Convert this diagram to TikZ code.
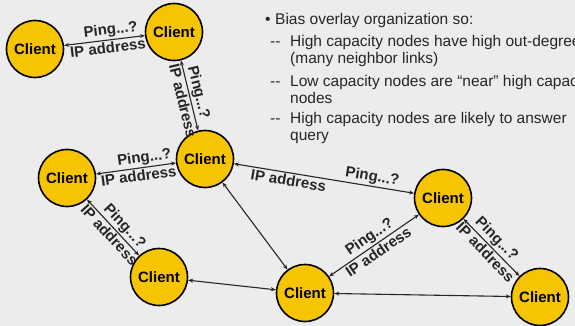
\documentclass[tikz,border=0pt]{standalone}
\usepackage{fontspec}
\setmainfont{Liberation Sans}
\usetikzlibrary{arrows.meta}
\definecolor{bgcol}{RGB}{236,236,236}
\definecolor{nodecol}{RGB}{247,196,0}

\begin{document}
\begin{tikzpicture}[x=1pt,y=-1pt,
  client/.style={circle, draw=black, line width=1.6pt, fill=nodecol,
    minimum size=57pt, inner sep=0pt, font=\fontsize{15}{15}\selectfont\bfseries},
  link/.style={line width=1.1pt, black!85,
    {Stealth[length=5pt,width=4pt]}-{Stealth[length=5pt,width=4pt]}},
  lab/.style={sloped, text=black!85, font=\fontsize{15}{15}\selectfont\bfseries, inner sep=1.5pt},
  txt/.style={anchor=base west, inner sep=0pt, text=black!85,
    font=\fontsize{15.5}{15.5}\selectfont}]
\fill[bgcol] (0,0) rectangle (575,326);
\useasboundingbox (0,0) rectangle (575,326);
\clip (0,0) rectangle (575,326);

% clients
\node[client] (a) at (35,49)   {Client};
\node[client] (b) at (174,32)  {Client};
\node[client] (c) at (205,159) {Client};
\node[client] (d) at (67,178)  {Client};
\node[client] (e) at (159,277) {Client};
\node[client] (f) at (305,293) {Client};
\node[client] (g) at (443,198) {Client};
\node[client] (h) at (540,297) {Client};

% labelled links
\draw[link] (a) -- node[lab,above,pos=0.59] {Ping...?} node[lab,below,pos=0.53] {IP address} (b);
\draw[link] (b) -- node[lab,above,pos=0.49] {Ping...?} node[lab,below,pos=0.55] {IP address} (c);
\draw[link] (d) -- node[lab,above,pos=0.62] {Ping...?} node[lab,below,pos=0.52] {IP address} (c);
\draw[link] (d) -- node[lab,above,pos=0.59] {Ping...?} node[lab,below,pos=0.54] {IP address} (e);
\draw[link] (c) -- node[lab,above,pos=0.76] {Ping...?} node[lab,below,pos=0.31] {IP address} (g);
\draw[link] (f) -- node[lab,above,pos=0.51] {Ping...?} node[lab,below,pos=0.50] {IP address} (g);
\draw[link] (g) -- node[lab,above,pos=0.47] {Ping...?} node[lab,below,pos=0.49] {IP address} (h);

% plain links
\draw[link] (c) -- (f);
\draw[link] (e) -- (f);
\draw[link] (f) -- (h);

% bullet text, hanging indent for the sub-items
\node[txt] (t1) at (265,25)  {\makebox[10pt][l]{\textbullet}Bias overlay organization so:};
\node[txt] (t2) at (270,47)  {\makebox[20pt][l]{-{}-}High capacity nodes have high out-degree};
\node[txt] (t3) at (290,64)  {(many neighbor links)};
\node[txt] (t4) at (270,87)  {\makebox[20pt][l]{-{}-}Low capacity nodes are “near” high capacity};
\node[txt] (t5) at (290,103) {nodes};
\node[txt] (t6) at (270,124) {\makebox[20pt][l]{-{}-}High capacity nodes are likely to answer};
\node[txt] (t7) at (290,140) {query};
\end{tikzpicture}
\end{document}
